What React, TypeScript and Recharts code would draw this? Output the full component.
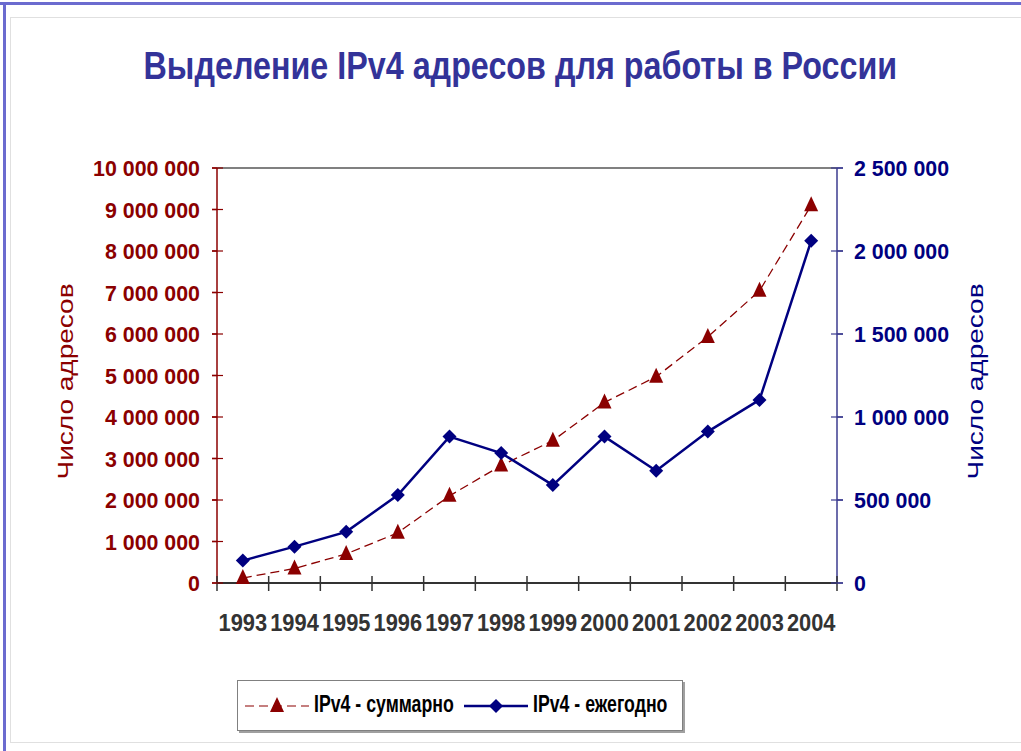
import { CartesianGrid, Legend, Line, LineChart, ReferenceLine, XAxis, YAxis } from 'recharts';

const years = ['1993', '1994', '1995', '1996', '1997', '1998', '1999', '2000', '2001', '2002', '2003', '2004'];
// суммарно, левая ось
const totalAddresses = [120000, 350000, 700000, 1210000, 2100000, 2830000, 3430000, 4350000, 4970000, 5930000, 7040000, 9100000];
// ежегодно, правая ось
const yearlyAddresses = [135000, 219000, 308000, 530000, 882000, 783000, 590000, 882000, 676000, 912000, 1103000, 2061000];
const leftTicks = [0, 1000000, 2000000, 3000000, 4000000, 5000000, 6000000, 7000000, 8000000, 9000000, 10000000];
const rightTicks = [0, 500000, 1000000, 1500000, 2000000, 2500000];

const data = years.map((year, i) => ({
  year,
  total: totalAddresses[i],
  yearly: yearlyAddresses[i],
}));

const FONT = "'Liberation Sans', Arial, sans-serif";
const RED = '#8b0000';
const NAVY = '#000080';
const HALF_BAND = 620 / 12 / 2;
const SQUEEZE = 0.93; // картинка сжата по горизонтали

const fmt = (v: number) => String(v).replace(/\B(?=(\d{3})+(?!\d))/g, ' ');

const Triangle = (props: any) => {
  const { cx, cy, index } = props;
  if (cx == null || cy == null) return <g key={index} />;
  return (
    <polygon
      key={index}
      points={`${cx},${cy - 9} ${cx - 7},${cy + 6} ${cx + 7},${cy + 6}`}
      fill={RED}
    />
  );
};

const Diamond = (props: any) => {
  const { cx, cy, index } = props;
  if (cx == null || cy == null) return <g key={index} />;
  return (
    <polygon
      key={index}
      points={`${cx},${cy - 7} ${cx + 7},${cy} ${cx},${cy + 7} ${cx - 7},${cy}`}
      fill={NAVY}
    />
  );
};

const YearTick = (props: any) => {
  const { x, y, payload, index } = props;
  return (
    <g>
      <line x1={x - HALF_BAND} x2={x - HALF_BAND} y1={y - 15} y2={y} stroke="#333" strokeWidth={1.5} />
      {index === years.length - 1 && (
        <line x1={x + HALF_BAND} x2={x + HALF_BAND} y1={y - 15} y2={y} stroke="#333" strokeWidth={1.5} />
      )}
      <text
        transform={`translate(${x},${y + 40}) scale(0.91,1)`}
        textAnchor="middle"
        fill="#333"
        fontSize={24}
        fontWeight="bold"
        fontFamily={FONT}
      >
        {payload.value}
      </text>
    </g>
  );
};

const LeftTick = (props: any) => {
  const { x, y, payload } = props;
  return (
    <g>
      <line x1={x + 12} x2={x + 23} y1={y} y2={y} stroke={RED} strokeWidth={1.2} />
      <text
        transform={`translate(${x},${y}) scale(${SQUEEZE},1)`}
        dy="0.36em"
        textAnchor="end"
        fill={RED}
        fontSize={23}
        fontWeight="bold"
        fontFamily={FONT}
      >
        {fmt(payload.value)}
      </text>
    </g>
  );
};

const RightTick = (props: any) => {
  const { x, y, payload } = props;
  return (
    <g>
      <line x1={x - 23} x2={x - 11} y1={y} y2={y} stroke="#3b3b8f" strokeWidth={1.2} />
      <text
        transform={`translate(${x},${y}) scale(${SQUEEZE},1)`}
        dy="0.36em"
        textAnchor="start"
        fill={NAVY}
        fontSize={23}
        fontWeight="bold"
        fontFamily={FONT}
      >
        {fmt(payload.value)}
      </text>
    </g>
  );
};

const axisTitle = (color: string, side: 'left' | 'right') => (props: any) => {
  const { viewBox } = props;
  const cx = side === 'left' ? viewBox.x - 2 : viewBox.x + 138;
  const cy = viewBox.y + viewBox.height / 2 + 6;
  return (
    <text
      transform={`translate(${cx},${cy}) rotate(-90) scale(1,0.8)`}
      textAnchor="middle"
      dominantBaseline="central"
      fill={color}
      fontSize={28}
      fontFamily={FONT}
    >
      Число адресов
    </text>
  );
};

const renderLegend = (props: any) => {
  const payload = [...(props.payload || [])].sort((a: any, b: any) =>
    a.dataKey === 'total' ? -1 : b.dataKey === 'total' ? 1 : 0,
  );
  const slots = [
    { icon: 6, text: 76 },
    { icon: 225, text: 295 },
  ];
  return (
    <div
      style={{
        position: 'relative',
        width: 444,
        height: 49,
        border: '1px solid #808080',
        boxShadow: '2px 2px 0 #a0a0a0',
        background: '#fff',
        fontFamily: FONT,
        fontWeight: 'bold',
        fontSize: 23,
        color: '#000',
      }}
    >
      {payload.map((entry: any, i: number) => {
        const dashed = entry.dataKey === 'total';
        const slot = slots[i] || slots[0];
        return (
          <div key={entry.value}>
            <svg width={66} height={20} style={{ position: 'absolute', left: slot.icon, top: 15 }}>
              <line
                x1={1}
                x2={65}
                y1={10}
                y2={10}
                stroke={entry.color}
                strokeWidth={dashed ? 1.2 : 2.5}
                strokeDasharray={dashed ? '9 5' : undefined}
              />
              {dashed ? (
                <polygon points="33,1 26,16 40,16" fill={RED} />
              ) : (
                <polygon points="33,3 40,10 33,17 26,10" fill={NAVY} />
              )}
            </svg>
            <span
              style={{
                position: 'absolute',
                left: slot.text,
                top: 10,
                whiteSpace: 'nowrap',
                transform: 'scaleX(0.77)',
                transformOrigin: 'left center',
              }}
            >
              {entry.value}
            </span>
          </div>
        );
      })}
    </div>
  );
};

export default function App() {
  return (
    <div style={{ position: 'absolute', left: 0, top: 0, width: 1021, height: 751, background: '#fff', overflow: 'hidden' }}>
      <div style={{ position: 'absolute', left: 0, top: 2, width: 1021, height: 3, background: '#6b6bcf' }} />
      <div style={{ position: 'absolute', left: 3, top: 2, width: 3, height: 749, background: '#6b6bcf' }} />
      <div
        style={{
          position: 'absolute',
          left: 10,
          top: 17,
          width: 1030,
          height: 724,
          border: '1px solid #e0e0e0',
        }}
      />
      <div
        style={{
          position: 'absolute',
          left: 0,
          width: 1040,
          top: 45,
          textAlign: 'center',
          fontFamily: FONT,
          fontWeight: 'bold',
          fontSize: 38,
          color: '#333399',
          whiteSpace: 'nowrap',
        }}
      >
        <span style={{ display: 'inline-block', transform: 'scaleX(0.85)' }}>
          Выделение IPv4 адресов для работы в России
        </span>
      </div>
      <div style={{ position: 'absolute', left: 0, top: 0 }}>
        <LineChart
          width={1021}
          height={751}
          data={data}
          margin={{ top: 168, right: 34, left: 67, bottom: 77 }}
        >
          <CartesianGrid horizontal={false} vertical={false} />
          <XAxis
            dataKey="year"
            padding={{ left: HALF_BAND, right: HALF_BAND }}
            height={40}
            stroke="#333"
            strokeWidth={2}
            tickLine={false}
            tickSize={8}
            tickMargin={0}
            tick={<YearTick />}
            interval={0}
          />
          <YAxis
            yAxisId="left"
            width={150}
            domain={[0, 10000000]}
            ticks={leftTicks}
            interval={0}
            stroke={RED}
            strokeWidth={1.5}
            tickSize={5}
            tickMargin={12}
            tick={<LeftTick />}
            label={{ content: axisTitle(RED, 'left') }}
          />
          <YAxis
            yAxisId="right"
            orientation="right"
            width={150}
            domain={[0, 2500000]}
            ticks={rightTicks}
            interval={0}
            stroke="#3b3b8f"
            strokeWidth={1.5}
            tickSize={6}
            tickMargin={11}
            tick={<RightTick />}
            label={{ content: axisTitle(NAVY, 'right') }}
          />
          <ReferenceLine yAxisId="left" y={10000000} stroke="#808080" strokeWidth={2} />
          <Line
            yAxisId="left"
            dataKey="total"
            name="IPv4 - суммарно"
            stroke={RED}
            strokeWidth={1.3}
            strokeDasharray="9 5"
            dot={Triangle}
            activeDot={false}
            isAnimationActive={false}
          />
          <Line
            yAxisId="right"
            dataKey="yearly"
            name="IPv4 - ежегодно"
            stroke={NAVY}
            strokeWidth={2.5}
            dot={Diamond}
            activeDot={false}
            isAnimationActive={false}
          />
          <Legend
            content={renderLegend}
            wrapperStyle={{ position: 'absolute', left: 237, top: 680, width: 446, height: 51, bottom: 'auto' }}
          />
        </LineChart>
      </div>
    </div>
  );
}
